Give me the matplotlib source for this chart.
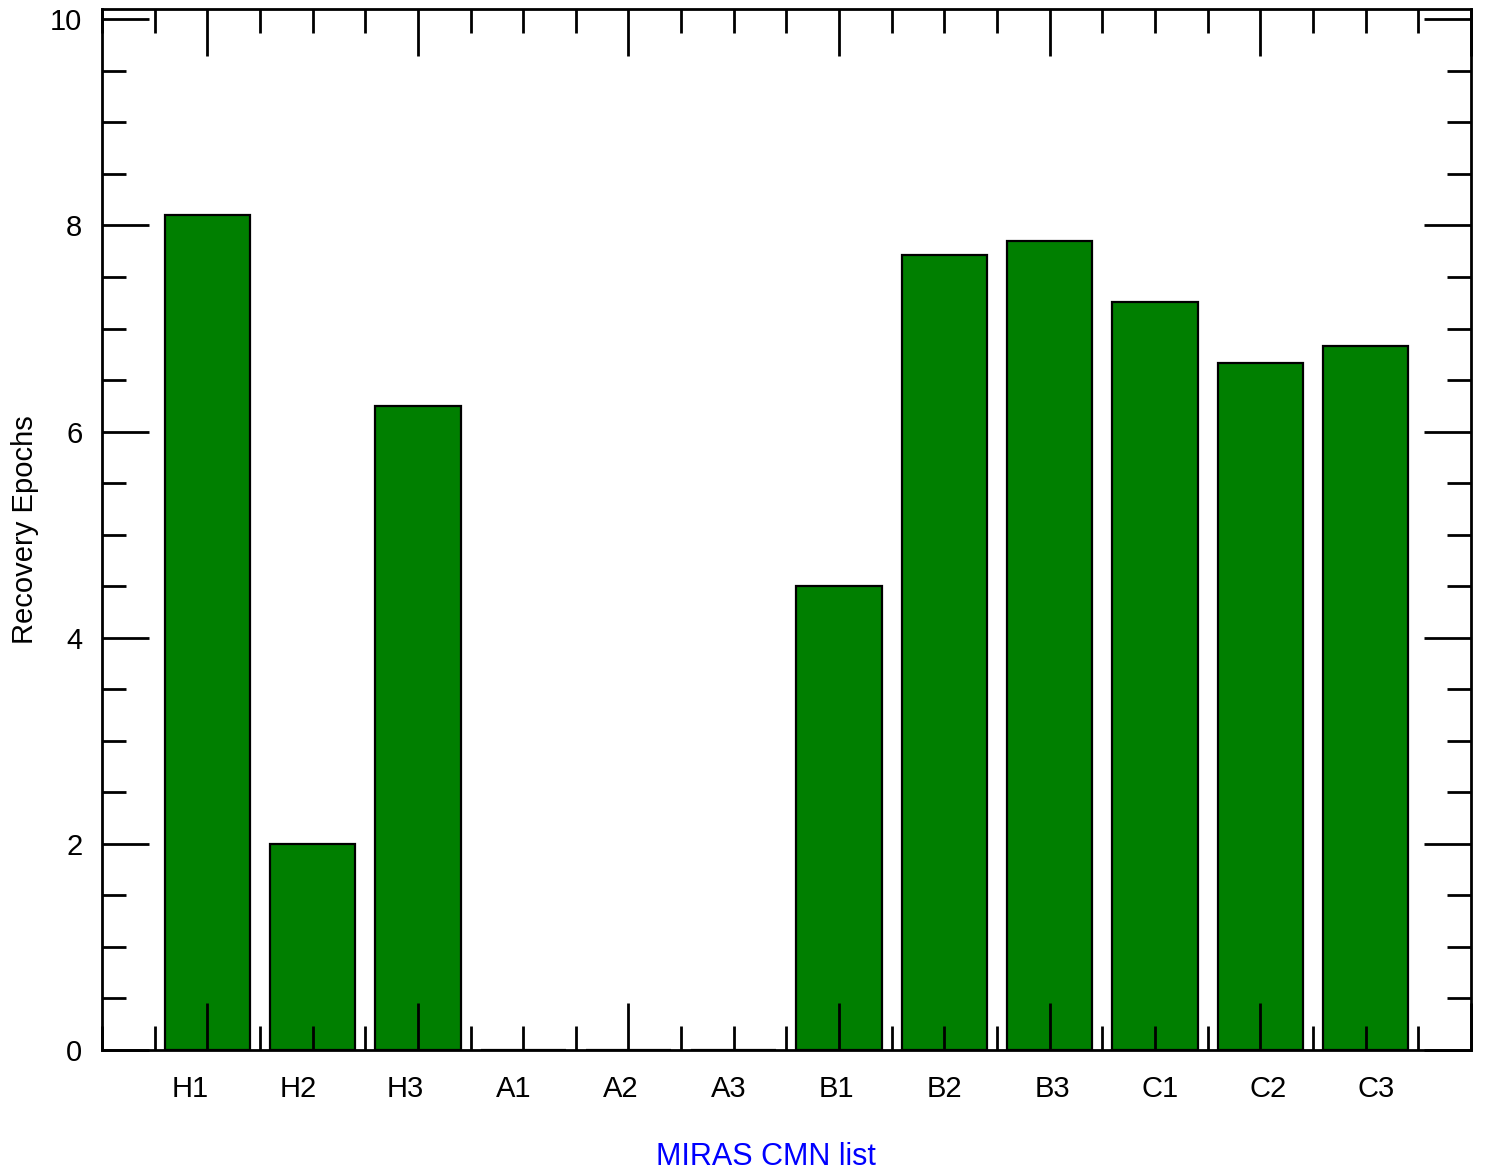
import matplotlib
matplotlib.use("Agg")
import matplotlib.pyplot as plt
from matplotlib.ticker import MultipleLocator

categories = ["H1", "H2", "H3", "A1", "A2", "A3", "B1", "B2", "B3", "C1", "C2", "C3"]
values = [8.10, 2.00, 6.25, 0.0, 0.0, 0.0, 4.50, 7.71, 7.85, 7.26, 6.67, 6.83]
positions = list(range(1, len(categories) + 1))

plt.rcParams['font.family'] = ['Liberation Sans', 'DejaVu Sans']

fig = plt.figure(figsize=(14.86, 11.74), dpi=100)
ax = fig.add_axes([0.0686, 0.1056, 0.9213, 0.8867])

ax.bar(positions, values, width=0.81, color="#007f00", edgecolor="black", linewidth=1.6, zorder=1)
ax.set_axisbelow(False)

ax.set_xlim(0, 13)
ax.set_ylim(0, 10.1)

ax.xaxis.set_major_locator(MultipleLocator(2, offset=1))
ax.xaxis.set_minor_locator(MultipleLocator(0.5))
ax.yaxis.set_major_locator(MultipleLocator(2))
ax.yaxis.set_minor_locator(MultipleLocator(0.5))

ax.tick_params(which="both", direction="in", top=True, right=True, width=2.0)
ax.tick_params(which="major", length=34)
ax.tick_params(which="minor", length=17)
ax.tick_params(axis="x", which="major", labelbottom=False)
ax.tick_params(axis="y", which="major", labelsize=21, pad=14)
for s in ax.spines.values():
    s.set_linewidth(2.0)

# category labels
for i, c in enumerate(categories):
    ax.text(0.0643 + i * 0.07875, -0.037, c, transform=ax.transAxes,
            ha="center", va="center", fontsize=21)

ax.text(0.485, -0.103, "MIRAS CMN list", transform=ax.transAxes,
        ha="center", va="center", fontsize=22, color="#0000ff")
ax.set_ylabel("Recovery Epochs", fontsize=21, labelpad=8)

fig.savefig("out.png", dpi=100)
